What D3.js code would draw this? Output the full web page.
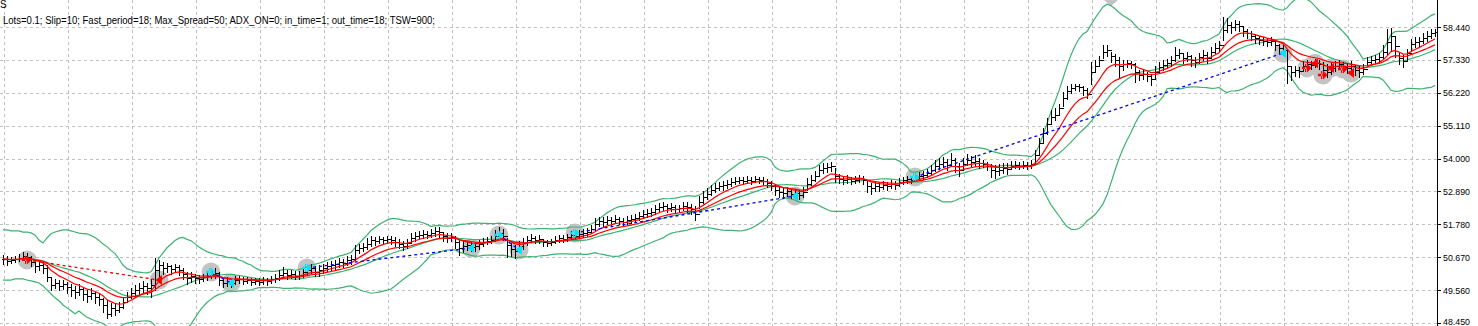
<!DOCTYPE html>
<html><head><meta charset="utf-8">
<script src="https://cdn.jsdelivr.net/npm/d3@7"></script>
<style>html,body{margin:0;padding:0;background:#fff;overflow:hidden}svg{display:block}</style>
</head><body>
<svg id="c" width="1478" height="326"></svg>
<script>
// ---------- data ----------
const closes = [
50.61,50.55,50.58,50.61,50.65,50.71,50.68,50.51,50.38,50.41,50.31,50.00,49.74,49.80,49.70,49.77,
49.67,49.57,49.50,49.60,49.43,49.36,49.46,49.33,49.26,49.06,48.76,48.96,48.89,48.99,49.16,49.33,
49.46,49.57,49.63,49.70,49.63,49.74,50.24,50.41,50.31,50.38,50.27,50.34,50.24,50.11,49.97,50.04,
49.97,49.94,50.00,50.04,50.11,50.14,49.90,49.80,49.87,49.80,49.90,49.94,49.87,49.90,49.84,49.87,
49.84,49.90,49.87,49.94,49.97,50.07,50.14,50.07,50.11,50.04,50.07,50.17,50.24,50.31,50.17,50.24,
50.31,50.38,50.41,50.44,50.51,50.48,50.58,50.61,50.92,50.98,51.02,51.12,51.25,51.22,51.29,51.25,
51.29,51.25,51.19,51.12,51.05,51.15,51.32,51.39,51.42,51.46,51.42,51.49,51.56,51.52,51.39,51.32,
51.35,51.19,50.98,51.05,51.08,51.02,51.05,51.12,51.19,51.22,51.25,51.39,51.49,51.39,51.08,50.95,
50.88,51.05,51.15,51.25,51.32,51.25,51.29,51.19,51.15,51.19,51.25,51.32,51.29,51.35,51.42,51.39,
51.46,51.49,51.52,51.62,51.79,51.89,51.86,51.93,51.89,51.96,51.89,51.86,51.93,51.96,52.00,52.06,
52.13,52.16,52.20,52.30,52.37,52.40,52.33,52.37,52.30,52.33,52.40,52.37,52.30,52.13,52.54,52.71,
52.81,52.94,53.01,53.08,53.11,53.14,53.21,53.24,53.28,53.24,53.28,53.24,53.31,53.28,53.24,53.18,
53.08,52.94,52.87,52.84,52.91,52.81,52.84,52.77,52.87,53.14,53.28,53.41,53.62,53.68,53.72,53.75,
53.41,53.31,53.28,53.31,53.24,53.28,53.35,53.28,53.08,53.01,53.08,53.04,53.11,53.08,53.14,53.11,
53.21,53.28,53.31,53.28,53.38,53.41,53.45,53.51,53.62,53.75,53.82,53.89,53.78,53.95,53.75,53.62,
53.82,53.95,53.89,53.92,53.85,53.82,53.75,53.62,53.58,53.62,53.68,53.65,53.75,53.78,53.75,53.78,
53.75,53.82,54.12,54.53,54.86,55.17,55.40,55.47,55.71,56.04,56.28,56.38,56.45,56.42,56.31,56.18,
56.92,57.12,57.33,57.60,57.66,57.46,57.33,57.12,57.19,57.22,57.19,56.92,56.82,56.85,56.79,56.69,
56.92,57.09,57.16,57.22,57.33,57.50,57.56,57.39,57.46,57.33,57.26,57.43,57.50,57.39,57.60,57.73,
57.83,58.34,58.51,58.44,58.54,58.47,58.31,58.24,58.14,58.07,58.00,57.97,57.93,57.97,57.83,57.73,
57.66,57.12,56.92,56.99,56.95,57.12,57.19,57.16,57.22,57.19,56.99,56.92,57.06,57.12,57.19,57.09,
57.06,57.12,56.99,56.92,57.02,57.26,57.33,57.36,57.43,57.60,57.93,58.14,57.80,57.39,57.29,57.56,
57.87,57.93,57.97,58.07,58.14,58.24,58.27];

const highs = [
50.75,50.71,50.68,50.71,50.78,50.85,50.81,50.71,50.58,50.55,50.51,50.41,49.97,49.94,49.90,49.90,
49.84,49.77,49.70,49.77,49.63,49.57,49.63,49.50,49.43,49.30,49.23,49.13,49.09,49.16,49.30,49.50,
49.63,49.74,49.80,49.87,49.80,49.94,50.65,50.58,50.51,50.48,50.41,50.44,50.41,50.31,50.17,50.17,
50.11,50.07,50.11,50.14,50.24,50.31,50.17,49.94,50.00,49.94,50.04,50.04,50.00,50.00,49.97,49.97,
49.97,50.00,49.97,50.04,50.11,50.24,50.34,50.24,50.24,50.21,50.21,50.31,50.41,50.44,50.38,50.41,
50.44,50.51,50.55,50.58,50.65,50.61,50.71,50.75,51.08,51.12,51.15,51.32,51.39,51.35,51.39,51.35,
51.39,51.39,51.35,51.29,51.22,51.29,51.49,51.52,51.56,51.59,51.56,51.62,51.69,51.69,51.52,51.49,
51.49,51.39,51.25,51.22,51.22,51.19,51.19,51.25,51.32,51.35,51.39,51.59,51.69,51.62,51.32,51.19,
51.08,51.22,51.32,51.39,51.46,51.39,51.42,51.29,51.25,51.29,51.39,51.42,51.42,51.46,51.56,51.56,
51.59,51.62,51.66,51.76,52.00,52.03,52.03,52.06,52.03,52.10,52.03,52.00,52.06,52.10,52.13,52.20,
52.27,52.30,52.33,52.43,52.50,52.54,52.47,52.50,52.43,52.43,52.54,52.54,52.47,52.40,52.74,52.91,
53.01,53.11,53.18,53.21,53.24,53.28,53.35,53.38,53.38,53.38,53.41,53.38,53.41,53.38,53.38,53.31,
53.24,53.11,53.04,53.01,53.04,52.97,52.97,52.94,53.04,53.35,53.45,53.58,53.78,53.85,53.85,53.89,
53.68,53.48,53.41,53.45,53.38,53.41,53.45,53.41,53.28,53.18,53.21,53.21,53.24,53.21,53.28,53.24,
53.35,53.38,53.41,53.41,53.51,53.55,53.58,53.65,53.78,53.95,54.02,54.05,53.99,54.19,54.02,53.85,
54.02,54.15,54.09,54.12,54.02,53.95,53.89,53.82,53.78,53.82,53.85,53.85,53.92,53.92,53.89,53.92,
53.89,53.95,54.29,54.70,55.03,55.37,55.64,55.71,55.84,56.25,56.45,56.52,56.52,56.52,56.45,56.38,
57.26,57.33,57.46,57.83,57.83,57.60,57.53,57.43,57.33,57.33,57.29,57.22,56.99,56.99,56.92,56.85,
57.12,57.26,57.33,57.36,57.46,57.77,57.70,57.56,57.60,57.50,57.43,57.56,57.66,57.60,57.77,57.90,
57.97,58.78,58.74,58.61,58.68,58.64,58.44,58.37,58.31,58.20,58.14,58.10,58.07,58.10,57.97,57.87,
57.83,57.66,57.12,57.12,57.09,57.29,57.33,57.29,57.36,57.33,57.26,57.19,57.26,57.29,57.33,57.26,
57.22,57.29,57.16,57.12,57.19,57.43,57.46,57.50,57.56,57.83,58.37,58.41,58.14,57.60,57.50,57.70,
58.04,58.10,58.10,58.24,58.31,58.37,58.37];

const lows = [
50.44,50.41,50.48,50.51,50.55,50.61,50.58,50.38,50.17,50.24,50.14,49.87,49.57,49.63,49.57,49.60,
49.46,49.36,49.30,49.40,49.23,49.16,49.26,49.13,49.06,48.82,48.62,48.69,48.72,48.82,48.96,49.20,
49.30,49.36,49.43,49.50,49.43,49.33,49.57,49.84,50.11,50.17,50.11,50.17,50.07,49.94,49.77,49.84,
49.80,49.80,49.87,49.90,49.97,49.97,49.74,49.67,49.70,49.67,49.77,49.80,49.77,49.80,49.74,49.77,
49.74,49.77,49.74,49.80,49.84,49.90,49.97,49.94,49.97,49.94,49.94,50.00,50.07,50.14,50.04,50.04,
50.14,50.21,50.24,50.27,50.34,50.34,50.41,50.44,50.58,50.81,50.88,50.95,51.05,51.08,51.15,51.12,
51.15,51.12,51.05,50.98,50.92,50.98,51.15,51.22,51.29,51.32,51.32,51.35,51.39,51.35,51.22,51.19,
51.22,50.98,50.75,50.85,50.92,50.88,50.88,50.95,51.05,51.12,51.15,51.22,51.32,51.25,50.68,50.71,
50.65,50.85,50.95,51.08,51.19,51.15,51.15,51.05,51.05,51.08,51.15,51.19,51.19,51.22,51.29,51.29,
51.32,51.35,51.39,51.49,51.59,51.72,51.72,51.79,51.76,51.83,51.79,51.72,51.79,51.83,51.86,51.93,
52.00,52.03,52.06,52.13,52.23,52.27,52.20,52.23,52.16,52.20,52.27,52.20,52.13,51.93,52.33,52.50,
52.64,52.77,52.87,52.94,52.94,53.01,53.08,53.14,53.18,53.14,53.18,53.14,53.21,53.18,53.14,53.04,
52.94,52.77,52.71,52.67,52.74,52.67,52.71,52.64,52.71,52.94,53.11,53.24,53.41,53.51,53.55,53.58,
53.21,53.18,53.14,53.18,53.14,53.18,53.21,53.14,52.87,52.81,52.91,52.91,52.97,52.94,53.01,52.97,
53.08,53.14,53.18,53.18,53.24,53.28,53.31,53.38,53.45,53.58,53.65,53.72,53.62,53.75,53.55,53.41,
53.65,53.78,53.72,53.75,53.68,53.72,53.62,53.38,53.35,53.45,53.51,53.48,53.65,53.68,53.65,53.68,
53.65,53.68,53.82,54.12,54.56,54.83,55.17,55.30,55.51,55.78,56.01,56.21,56.31,56.28,56.15,56.04,
56.52,56.92,57.12,57.39,57.46,57.26,57.12,56.72,56.99,57.09,57.06,56.58,56.65,56.69,56.62,56.48,
56.72,56.92,56.99,57.09,57.12,57.29,57.39,57.22,57.29,57.12,57.09,57.22,57.33,57.22,57.43,57.56,
57.63,58.00,58.27,58.24,58.34,58.31,58.14,58.07,58.00,57.90,57.87,57.83,57.80,57.83,57.66,57.56,
57.50,56.55,56.65,56.79,56.75,56.99,57.06,57.02,57.09,57.02,56.75,56.75,56.85,56.95,57.02,56.92,
56.89,56.95,56.82,56.75,56.85,57.12,57.19,57.22,57.26,57.39,57.50,57.66,57.43,57.19,57.09,57.33,
57.66,57.77,57.80,57.90,57.97,58.07,58.14];

// Bollinger band values for the first bars (before a full 20-bar window exists)
const upperBandHead = [51.59,51.59,51.56,51.56,51.56,51.52,51.52,51.49,51.42,51.25,51.15,51.32,51.46,51.52,51.56,51.59,51.59,51.56,51.52];
const lowerBandHead = [49.90,49.90,49.90,49.94,49.94,49.94,49.90,49.87,49.84,49.80,49.70,49.57,49.43,49.30,49.20,49.06,48.96,48.86,48.76];

const priceTicks = [58.44, 57.33, 56.22, 55.11, 54.00, 52.89, 51.78, 50.67, 49.56, 48.45];
const headerTop = "S";
const headerLine = "Lots=0.1; Slip=10; Fast_period=18; Max_Spread=50; ADX_ON=0; in_time=1; out_time=18; TSW=900;";

const tradeSide       = ["sell","buy","buy","buy","buy","buy","sell","sell","sell"];
const tradeOpenBar    = [6, 52, 76, 124, 143, 228, 326, 330, 335];
const tradeOpenPrice  = [50.58, 50.17, 50.31, 51.42, 51.49, 53.38, 57.06, 56.82, 57.02];
const tradeCloseBar   = [39, 57, 117, 129, 198, 320, 328, 332, 337];
const tradeClosePrice = [49.90, 49.80, 50.98, 50.92, 52.74, 57.56, 57.22, 57.06, 56.89];
const offTopMarkBar = 277;

// ---------- indicators ----------
function ema(arr, p){ const a = 2/(p+1); let e = arr[0]; return arr.map((v,i)=> (e = i===0 ? v : e + a*(v-e))); }
function windowed(arr, p, f){ return arr.map((v,i)=> f(arr.slice(Math.max(0,i-p+1), i+1))); }
const mid = windowed(closes, 20, s => d3.mean(s));
const sdv = windowed(closes, 20, s => d3.deviation(s)*Math.sqrt((s.length-1)/s.length) || 0);
const upper = closes.map((c,i)=> i < upperBandHead.length ? upperBandHead[i] : mid[i] + 3*sdv[i]);
const lower = closes.map((c,i)=> i < lowerBandHead.length ? lowerBandHead[i] : mid[i] - 3*sdv[i]);
const fastMA = ema(closes, 8);
const slowMA = ema(closes, 16);

// ---------- layout ----------
const W = 1478, H = 326, plotRight = 1437;
const N = closes.length;
const x = d3.scaleLinear().domain([0, N-1]).range([3, 3 + 4*(N-1)]);
const y = d3.scaleLinear().domain([48.45, 58.44]).range([323, 27]);
const svg = d3.select("#c");
svg.append("rect").attr("width", W).attr("height", H).attr("fill", "#fff");

svg.append("defs").append("clipPath").attr("id","plot")
  .append("rect").attr("x",0).attr("y",0).attr("width",plotRight).attr("height",H);

// grid
const grid = svg.append("g").attr("stroke","#c0c0c0").attr("stroke-dasharray","3,3").attr("shape-rendering","crispEdges");
grid.selectAll("line.h").data(priceTicks).join("line").attr("class","h")
  .attr("x1",0).attr("x2",plotRight).attr("y1",d=>Math.round(y(d))+0.5).attr("y2",d=>Math.round(y(d))+0.5);
grid.selectAll("line.v").data(d3.range(4, plotRight, 64)).join("line").attr("class","v")
  .attr("x1",d=>d+0.5).attr("x2",d=>d+0.5).attr("y1",0).attr("y2",H);

const plot = svg.append("g").attr("clip-path","url(#plot)");

// grey trade circles
const markers = [];
tradeSide.forEach((s,k)=>{
  markers.push({side:s, kind:"open", i:tradeOpenBar[k], p:tradeOpenPrice[k]});
  markers.push({side:s, kind:"close", i:tradeCloseBar[k], p:tradeClosePrice[k]});
});
plot.append("g").selectAll("circle").data(markers).join("circle")
  .attr("cx",d=>x(d.i)).attr("cy",d=>y(d.p)).attr("r",9.5).attr("fill","#c3c3c3");
plot.append("path")
  .attr("d", `M${x(offTopMarkBar)-7},0 L${x(offTopMarkBar)+7},0 L${x(offTopMarkBar)},6 Z`)
  .attr("fill","#c3c3c3");

// bands
const line = arr => d3.line().x((d,i)=>x(i)).y((d,i)=>y(arr[i]))(arr);
const green = "#3cb371";
plot.append("path").attr("d",line(upper)).attr("fill","none").attr("stroke",green).attr("stroke-width",1.2);
plot.append("path").attr("d",line(lower)).attr("fill","none").attr("stroke",green).attr("stroke-width",1.2);
plot.append("path").attr("d",line(mid)).attr("fill","none").attr("stroke",green).attr("stroke-width",1.2);

// bars
const bars = plot.append("g").attr("stroke","#000").attr("stroke-width",1).attr("shape-rendering","crispEdges");
closes.forEach((c,i)=>{
  const xi = Math.round(x(i)) + 0.5;
  const o = i === 0 ? c : closes[i-1];
  bars.append("line").attr("x1",xi).attr("x2",xi).attr("y1",Math.round(y(highs[i]))).attr("y2",Math.round(y(lows[i]))+1);
  bars.append("line").attr("x1",xi-2).attr("x2",xi).attr("y1",Math.round(y(o))+0.5).attr("y2",Math.round(y(o))+0.5);
  bars.append("line").attr("x1",xi).attr("x2",xi+2).attr("y1",Math.round(y(c))+0.5).attr("y2",Math.round(y(c))+0.5);
});

// moving averages
plot.append("path").attr("d",line(slowMA)).attr("fill","none").attr("stroke","#ff0000").attr("stroke-width",1.2);
plot.append("path").attr("d",line(fastMA)).attr("fill","none").attr("stroke","#ff0000").attr("stroke-width",1.2);

// trade lines
const col = s => s === "buy" ? "#0000ff" : "#ff0000";
plot.append("g").selectAll("line").data(tradeSide.map((s,k)=>k)).join("line")
  .attr("x1",k=>x(tradeOpenBar[k])).attr("y1",k=>y(tradeOpenPrice[k]))
  .attr("x2",k=>x(tradeCloseBar[k])).attr("y2",k=>y(tradeClosePrice[k]))
  .attr("stroke",k=>col(tradeSide[k])).attr("stroke-width",1.3).attr("stroke-dasharray","3,3");

// arrows
const arrowCol = s => s === "buy" ? "#00e4ff" : "#ff0000";
const openShape = "M-5,-1.2 L0,-1.2 L0,-4.5 L4.5,0 L0,4.5 L0,1.2 L-5,1.2 Z M-2,-4 L-2,4 L-0.8,4 L-0.8,-4 Z";
const closeShape = "M-3.5,0 L3,-5 L3,5 Z";
plot.append("g").selectAll("path").data(markers).join("path")
  .attr("transform",d=>`translate(${x(d.i)},${y(d.p)})`)
  .attr("d",d=> d.kind === "open" ? openShape : closeShape)
  .attr("fill",d=>arrowCol(d.side));

// price axis
svg.append("line").attr("x1",plotRight+0.5).attr("x2",plotRight+0.5).attr("y1",0).attr("y2",H)
  .attr("stroke","#000").attr("shape-rendering","crispEdges");
const ax = svg.append("g");
ax.selectAll("line").data(priceTicks).join("line")
  .attr("x1",plotRight).attr("x2",plotRight+4).attr("y1",d=>Math.round(y(d))+0.5).attr("y2",d=>Math.round(y(d))+0.5)
  .attr("stroke","#000").attr("shape-rendering","crispEdges");
ax.selectAll("text").data(priceTicks).join("text")
  .attr("x",1443).attr("y",d=>Math.min(y(d)+3.5, 324.5))
  .attr("font-family","'Liberation Sans', Arial, sans-serif").attr("font-size",9.6)
  .attr("fill","#000").attr("textLength",27).attr("lengthAdjust","spacingAndGlyphs")
  .text(d=>d3.format(".3f")(d));

// header text
svg.append("text").attr("x",0).attr("y",8).attr("font-family","'Liberation Sans', Arial, sans-serif")
  .attr("font-size",10).attr("fill","#000").text(headerTop);
svg.append("text").attr("x",3).attr("y",24).attr("font-family","'Liberation Sans', Arial, sans-serif")
  .attr("font-size",10).attr("fill","#000").attr("textLength",432).attr("lengthAdjust","spacingAndGlyphs")
  .text(headerLine);
</script>
</body></html>
